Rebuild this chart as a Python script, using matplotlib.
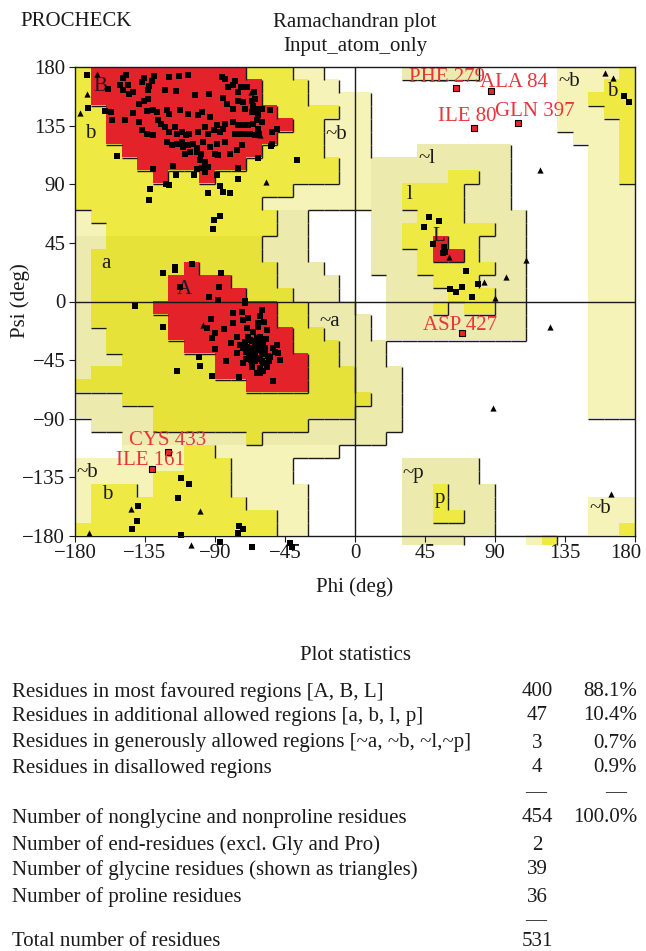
import numpy as np
import matplotlib
matplotlib.use('Agg')
import matplotlib.pyplot as plt
import matplotlib.transforms as mtransforms
from matplotlib.collections import LineCollection
from matplotlib.colors import to_rgb

plt.rcParams['font.family'] = ['Liberation Serif', 'DejaVu Serif']

# ---------------- region map (10-degree cells) ----------------
# rows: psi 180 -> -180 (top to bottom), columns: phi -180 -> 170
# R core, Y/A additional allowed, G/g generously allowed, . disallowed
region_rows = [
    'Y' + 'R'*10 + 'Y'*3 + 'G'*2 + '.'*2 + '.'*3 + 'g'*5 + '.'*5 + 'G'*4 + 'Y',
    'Y' + 'R'*11 + 'Y'*3 + 'G'*2 + '.' + '.' + '.'*12 + 'G'*3 + 'Y'*2,
    'Y' + 'R'*11 + 'Y'*3 + 'G'*4 + '.'*12 + 'G'*2 + 'Y'*3,
    'Y'*2 + 'R'*11 + 'Y'*4 + 'G'*2 + '.'*12 + 'G'*3 + 'Y'*2,
    'Y'*2 + 'R'*12 + 'Y'*2 + 'G'*3 + '.'*12 + 'G'*4 + 'Y',
    'Y'*2 + 'R'*11 + 'Y'*3 + 'G'*3 + '.'*13 + 'G'*3 + 'Y',
    'Y'*3 + 'R'*9 + 'Y'*4 + 'G'*3 + '.'*3 + 'g'*6 + '.'*5 + 'G'*2 + 'Y',
    'Y'*4 + 'R'*7 + 'Y'*6 + 'G'*2 + 'g'*9 + '.'*5 + 'G'*2 + 'Y',
    'Y'*5 + 'R' + 'Y'*2 + 'R' + 'Y'*8 + 'G'*2 + 'g'*5 + 'Y'*2 + 'g'*2 + '.'*5 + 'G'*2 + 'Y',
    'Y'*14 + 'G'*5 + 'g'*2 + 'Y'*4 + 'g'*3 + '.'*5 + 'G'*3,
    'Y'*12 + 'G'*7 + 'g'*2 + 'Y'*4 + 'g'*3 + '.'*5 + 'G'*3,
    'G' + 'Y'*12 + 'g'*2 + '.'*4 + 'g'*3 + 'Y'*3 + 'g'*4 + '.'*4 + 'G'*3,
    'G'*2 + 'Y'*11 + 'g'*2 + '.'*4 + 'g'*2 + 'Y'*6 + 'g'*2 + '.'*4 + 'G'*3,
    'g'*2 + 'A'*10 + 'g'*3 + '.'*4 + 'g'*2 + 'Y'*2 + 'R' + 'Y'*2 + 'g'*3 + '.'*4 + 'G'*3,
    'g' + 'A'*11 + 'g'*3 + '.'*4 + 'g'*3 + 'Y' + 'R'*2 + 'Y' + 'g'*3 + '.'*4 + 'G'*3,
    'g' + 'A'*6 + 'R' + 'A'*5 + 'g'*3 + '.'*3 + 'g'*3 + 'Y'*5 + 'g'*2 + '.'*4 + 'G'*3,
    'g' + 'A'*5 + 'R'*4 + 'A'*3 + 'g'*4 + '.'*3 + 'g'*3 + 'Y'*3 + 'g'*3 + '.'*4 + 'G'*3,
    'g' + 'A'*5 + 'R'*5 + 'A'*3 + 'g'*3 + '.'*3 + 'g'*4 + 'Y'*3 + 'g'*2 + '.'*4 + 'G'*3,
    'g' + 'A'*4 + 'R'*8 + 'A'*2 + 'g'*3 + '.'*2 + 'g'*3 + 'Y' + 'g' + 'Y'*2 + 'g'*2 + '.'*4 + 'G'*3,
    'g' + 'A'*5 + 'R'*7 + 'A'*2 + 'g'*4 + '.' + 'g'*9 + '.'*4 + 'G'*3,
    'g'*2 + 'A'*4 + 'R'*8 + 'A'*2 + 'g'*3 + '.' + 'g'*9 + '.'*4 + 'G'*3,
    'g'*2 + 'A'*5 + 'R'*7 + 'A'*3 + 'g'*3 + '.'*13 + 'G'*3,
    'g'*3 + 'A'*6 + 'R'*6 + 'A'*2 + 'g'*3 + '.'*13 + 'G'*3,
    'g' + 'A'*8 + 'R'*6 + 'A'*3 + 'g'*3 + '.'*12 + 'G'*3,
    'A'*11 + 'R'*4 + 'A'*3 + 'g'*3 + '.'*12 + 'G'*3,
    'g'*3 + 'A'*16 + 'g'*2 + '.'*12 + 'G'*3,
    'g'*5 + 'A'*13 + 'g'*3 + '.'*12 + 'G'*3,
    '.' + 'g'*4 + 'A'*10 + 'g'*6 + '.'*15,
    '.'*3 + 'g'*8 + 'A' + 'g'*8 + '.'*16,
    '.'*3 + 'G'*4 + 'Y'*2 + 'G'*8 + '.'*19,
    'G'*7 + 'Y'*3 + 'G'*4 + '.'*7 + 'g'*5 + '.'*10,
    'G'*5 + 'Y'*5 + 'G'*4 + '.'*7 + 'g'*5 + '.'*10,
    'G' + 'Y'*3 + 'G' + 'Y'*5 + 'G'*5 + '.'*6 + 'g'*2 + 'Y' + 'g'*3 + '.'*9,
    'G' + 'Y'*10 + 'G'*4 + '.'*6 + 'g'*2 + 'Y' + 'g'*3 + '.'*6 + 'G'*3,
    'G' + 'Y'*12 + 'G'*2 + '.'*6 + 'g'*2 + 'Y'*2 + 'g'*2 + '.'*6 + 'G'*3,
    'Y'*13 + 'G'*2 + '.'*6 + 'g'*6 + '.'*6 + 'G'*2 + 'Y',
]
below_row = '.'*21 + 'g'*4 + '.'*4 + 'G' + 'Y' + '.'*5

region_colors = {'R': '#E4222A', 'Y': '#EEE943', 'A': '#E7E23A',
                 'G': '#F6F3B8', 'g': '#EDEAAE', '.': '#FFFFFF'}
region_level = {'R': 4, 'Y': 3, 'A': 3, 'G': 2, 'g': 2, '.': 1}

# ---------------- residues ----------------
sq_phi = [-172, -149, -147, -135.6, -129.2, -119.3, -112.9, -107.1, -85.7, -83.6, -77.1,
          -151, -146, -137, -130.7, -149, -145, -142.5, -132.4, -132.8, -122.1, -115, -103, -93.6,
          -84.6, -81.4, -78.2, -75, -73.5, -69.6, -64.9, -159,
          -161, -157, -156, -148, -138.6, -142.5, -134, -139, -135.6, -132.8, -130, -127, -120.6,
          -119.8, -112.5, -107.1, -100.7, -98.6, -93.2, -88.9, -83.6, -78.2, -75, -71.8, -68.5,
          -65.3, -63.2, -66.4, -70.7, -78.2, -82.5, -75, -71.8, -66.4, -65.3, -62.1, -64.3,
          -137, -134, -129.6, -126.4, -124.9, -122.1, -119.8, -115.7, -114.6, -111.4, -108.6,
          -106.5, -100.7, -96.4, -94.3, -90.6, -86.8, -84.6, -77.1, -73.9, -70.7, -67.5, -64.3, -61.5,
          -121, -117.8, -114.6, -111.4, -110.3, -107.1, -104.3, -101.8, -97.9, -93.2, -88.9, -83.6,
          -80.3, -76, -72.8, -87.8, -90, -99.2, -101.8, -106, -109.3, -99.6, -96.4, -94.3, -98.6,
          -101.8, -116.8, -129.6, -115, -103.5, -96.4, -88.9, -75, -62.1,
          -153, -131.8, -132.2, -121.5, -119.8, -94.3, -86.8, -85.1, -80.3, -75, -86.8, -90.6, -91.5,
          -60, -54.7, -62.2, -59.6, -50.4, -53.6, -62.6, -53.2, -54, -62.6, -37.5, -171.4,
          -123.2, -115.7, -115.7, -104.5, -86.3, -87.6, -94, -70.7, -112.5, -141.4, -123.2,
          -92.7, -95.3, -89.9, -83.9, -92.1, -89.9, -82.9, -100.2, -99.6, -91.7, -114.6, -74.3,
          -61, -52.4, -70.7, -78.2, -72.8, -72.2, -68.5, -61, -58.4, -62.1, -78.2, -76, -69.6,
          -65.3, -61, -56.7, -50.3, -49.2, -48.2, -61, -65.3, -58.9, -54.6, -69.6, -76, -71.7,
          -66.4, -61, -56.7, -51.4, -79.9, -63.2, -73.9, -67.4, -87.8,
          -66, -64, -60, -62, -68, -58, -70, -64, -56, -60, -66, -72, -62, -67, -59, -55, -63,
          -69, -57, -65, -61, -70, -58, -64, -66, -53, -71, -59, -63, -60, -62.2,
          -112.1, -106.5, -114, -139.7, -140.3, -143.6, -112.1, -74.3, -72.2, -75.4,
          -87, -66.2, -41.5, -40.7,
          47.8, 54.3, 44.4, 50.4, 57.3, 57.9, 56.8, 71.4, 79.3, 61.1, 65, 68.6, 75.5,
          173.1, 176.1]
sq_psi = [174, 171.5, 173.6, 171.5, 173, 172.3, 173, 174, 172.3, 170.5, 169,
          165.9, 166.4, 168.4, 169, 162, 159.5, 160.8, 165.4, 162, 162, 161.3, 158.2, 159.5,
          156.2, 164.6, 165.9, 160.8, 164.6, 164.6, 160.8, 162.8,
          146, 145.4, 139, 139, 137.7, 144.9, 146, 151.8, 153.6, 155.1, 146.7, 145.4, 146.7,
          144.1, 146.7, 144.1, 142.9, 145.4, 141.6, 135.7, 136.5, 137.7, 135.7, 135.7, 135.2,
          136.5, 139, 145.4, 148, 148, 151.8, 153.6, 153.1, 153.6, 150.4, 148, 155.7,
          131.3, 128.8, 127.5, 139, 136.5, 133.9, 130.1, 133.9, 128.8, 130.1, 127.5,
          128.8, 130.1, 133.9, 128.8, 131.3, 130.1, 132.6, 128.8, 128.8, 128.8, 128.8, 127.5, 128.8,
          122.4, 119.8, 121.1, 122.4, 118.5, 119.8, 121.1, 117.8, 122.4, 118.5, 121.1, 122.4,
          113.4, 116, 119.8, 112.2, 113.4, 113.4, 114.7, 114.7, 113.4, 108.3, 107, 103.2, 102.4,
          101.9, 104, 101.4, 97.3, 97.3, 99.4, 96.8, 102.4, 110.1,
          111.4, 86, 77.9, 90.1, 89.1, 83.5, 88.6, 84, 83.5, 94.2, 65.6, 62.8, 55.9,
          148, 146.7, 142.9, 137.7, 132.6, 130.1, 132.6, 121.1, 119.3, 110.1, 108.3, 148.3,
          21.6, 26.2, 24.2, 28.8, 21.6, 11.4, 3.7, 0.6, 10.9, -3.5, -19.4,
          -13.7, -20.6, -24, -21.4, -28.3, -36.8, -45.5, -42.4, -49.5, -57.2, -53.1, -58.2,
          -55.2, -60.8, -1.4, -8.6, -7.8, -14.2, -13, -11.2, -15.5, -19.4, -16.3, -27, -20.6,
          -23.2, -27, -21.9, -33.4, -39.8, -44.9, -37.3, -42.4, -47.5, -42.4, -34.7, -39.8, -47.5,
          -50.1, -51.3, -50.1, -38.5, -32.1, -32.1, -33.4, -29.6, 1.1,
          -36, -42, -40, -34, -40, -36, -44, -46, -42, -46, -30, -36, -44, -45, -31, -46, -28,
          -27, -29, -38, -43, -39, -40, -35, -47, -36, -31, -53, -55, -6.5, -16.3,
          -135.5, -140.4, -150.9, -157, -168.8, -174.4, -179.5, -172.4, -175, -178,
          -184.6, -188.2, -185.4, -188.2,
          64.6, 61.5, 56.9, 44.1, 41.6, 38.3, 37.5, 23.7, 13.4, 9.3, 7.6, 10.9, 3.2,
          157.5, 153.1]

gly_phi = [-166, -172, -176.8, -67, -61, -57.4, -97.5, -144, -99.4, -170.7, -105.6,
           118.9, 109.9, 96.9, 82.7, 90, 60.4, 160.7, 165.6, 125.4, 88.9, 164.4]
gly_psi = [174.6, 159, 144.7, 161, 127.8, 92, -18.1, -159.4, -160.9, -177.5, -186.9,
           100.9, 32.2, 18.6, 15.1, 3, 33.9, 175.2, 171.6, -19.6, -81.5, -148]

out_names = ['PHE 279', 'ALA 84', 'ILE 80', 'GLN 397', 'ASP 427', 'CYS 433', 'ILE 161']
out_phi = [64.9, 87.2, 76.3, 104.6, 68.6, -120.4, -130.7]
out_psi = [164.1, 161.8, 133.2, 137.3, -24.4, -115.3, -128.6]
out_label_offset_px = [(-9, 10), (23, 8), (-6, 11), (17, 11), (-2, 8), (0, 11), (-1, 9)]

region_labels = ['B', 'b', '~b', 'a', 'A', '~a', '~b', 'b', '~l', 'l', 'L', '~b', 'b', '~p', 'p', '~b']
region_label_phi = [-164, -170, -12, -160, -110, -16, -172, -159, 46.5, 35, 54, 137.6, 165.6, 37.5, 54.6, 157.5]
region_label_psi = [165, 129, 128, 29, 9, -15, -131, -148, 110, 82, 50, 168.7, 161, -132, -151, -159]

ticks = [-180, -135, -90, -45, 0, 45, 90, 135, 180]
tick_labels = ['\u2212180', '\u2212135', '\u221290', '\u221245', '0', '45', '90', '135', '180']

stat_labels = ['Residues in most favoured regions [A, B, L]',
               'Residues in additional allowed regions [a, b, l, p]',
               'Residues in generously allowed regions [~a, ~b, ~l,~p]',
               'Residues in disallowed regions',
               'Number of nonglycine and nonproline residues',
               'Number of end-residues (excl. Gly and Pro)',
               'Number of glycine residues (shown as triangles)',
               'Number of proline residues',
               'Total number of residues']
stat_counts = ['400', '47', '3', '4', '454', '2', '39', '36', '531']
stat_pcts = ['88.1%', '10.4%', '0.7%', '0.9%', '100.0%', '', '', '', '']

# ---------------- figure ----------------
W, H = 646, 951
fig = plt.figure(figsize=(W / 100, H / 100), dpi=100)
fig.patch.set_facecolor('white')
ax = fig.add_axes([75 / W, 1 - 536 / H, 560 / W, 469 / H])

img = np.array([[to_rgb(region_colors[c]) for c in row] for row in region_rows])
ax.imshow(img, extent=(-180, 180, -180, 180), origin='upper',
          interpolation='nearest', aspect='auto', zorder=0)
img_b = np.array([[to_rgb(region_colors[c]) for c in below_row]])
ib = ax.imshow(img_b, extent=(-180, 180, -187, -180), origin='upper',
               interpolation='nearest', aspect='auto', zorder=0)
ib.set_clip_on(False)

# boundary lines on right/bottom edges of higher-level regions
lev = [[region_level[c] for c in row] for row in region_rows]
segs = []
nr, nc = len(region_rows), len(region_rows[0])
for m in range(nr):
    for k in range(nc):
        x0 = -180 + 10 * k
        ytop = 180 - 10 * m
        if k < nc - 1 and lev[m][k + 1] < lev[m][k]:
            segs.append([(x0 + 10, ytop - 10), (x0 + 10, ytop)])
        if m < nr - 1 and lev[m + 1][k] < lev[m][k]:
            segs.append([(x0, ytop - 10), (x0 + 10, ytop - 10)])
blev = [region_level[c] for c in below_row]
for k in range(nc - 1):
    if blev[k + 1] < blev[k]:
        segs.append([(-170 + 10 * k, -187), (-170 + 10 * k, -180)])
lc = LineCollection(segs, colors='#1a1a1a', linewidths=1.0, zorder=1)
lc.set_clip_on(False)
ax.add_collection(lc)

ax.axhline(0, color='#1a1a1a', lw=1.0, zorder=2)
ax.axvline(0, color='#1a1a1a', lw=1.0, zorder=2)

ax.scatter(sq_phi, sq_psi, marker='s', s=22, c='black', linewidths=0, zorder=5, clip_on=False)
ax.scatter(gly_phi, gly_psi, marker='^', s=20, c='black', linewidths=0, zorder=5, clip_on=False)
ax.scatter(out_phi, out_psi, marker='s', s=16, facecolors='#E8252C', edgecolors='black',
           linewidths=0.8, zorder=6)
for name, x, y, (dx, dy) in zip(out_names, out_phi, out_psi, out_label_offset_px):
    ax.annotate(name, (x, y), xytext=(dx * 0.72, dy * 0.72), textcoords='offset points',
                ha='center', va='center', color='#E8353C', fontsize=15, zorder=7)

for t, x, y in zip(region_labels, region_label_phi, region_label_psi):
    ax.text(x, y, t, ha='center', va='center', fontsize=15, color='#1a1a1a', zorder=4)

ax.set_xlim(-180, 180)
ax.set_ylim(-180, 180)
ax.set_xticks(ticks)
ax.set_xticklabels(tick_labels)
ax.set_yticks(ticks)
ax.set_yticklabels(tick_labels)
ax.tick_params(direction='out', length=4, width=0.8, labelsize=15, colors='#1a1a1a')
ax.tick_params(axis='x', pad=2)
ax.tick_params(axis='y', pad=3)
for s in ax.spines.values():
    s.set_linewidth(1.0)
    s.set_color('#1a1a1a')
    s.set_zorder(8)

# shift the last x tick label left so it stays inside the figure (as in the original)
last_lbl = ax.get_xticklabels()[-1]
last_lbl.set_transform(last_lbl.get_transform() +
                       mtransforms.ScaledTranslation(-9 / 100, 0, fig.dpi_scale_trans))


def ft(x, y, s, **kw):
    fig.text(x / W, 1 - y / H, s, fontsize=15, color='#1a1a1a', **kw)


ft(20, 22, 'PROCHECK', ha='left', va='center')
ft(355, 22, 'Ramachandran plot', ha='center', va='center')
ft(355, 46, 'Input_atom_only', ha='center', va='center')
ft(355, 587, 'Phi (deg)', ha='center', va='center')
ft(20, 301, 'Psi (deg)', ha='center', va='center', rotation=90)
ft(355, 655, 'Plot statistics', ha='center', va='center')

row_y = [692, 716, 743, 768, 818, 845, 870, 897, 941]
for lab, cnt, pct, y in zip(stat_labels, stat_counts, stat_pcts, row_y):
    ft(12, y, lab, ha='left', va='center')
    ft(537, y, cnt, ha='center', va='center')
    if pct:
        ft(637, y, pct, ha='right', va='center')
ft(536, 793, '\u2014', ha='center', va='center')
ft(616, 793, '\u2014', ha='center', va='center')
ft(536, 921, '\u2014', ha='center', va='center')

fig.savefig('out.png', dpi=100, facecolor='white')
